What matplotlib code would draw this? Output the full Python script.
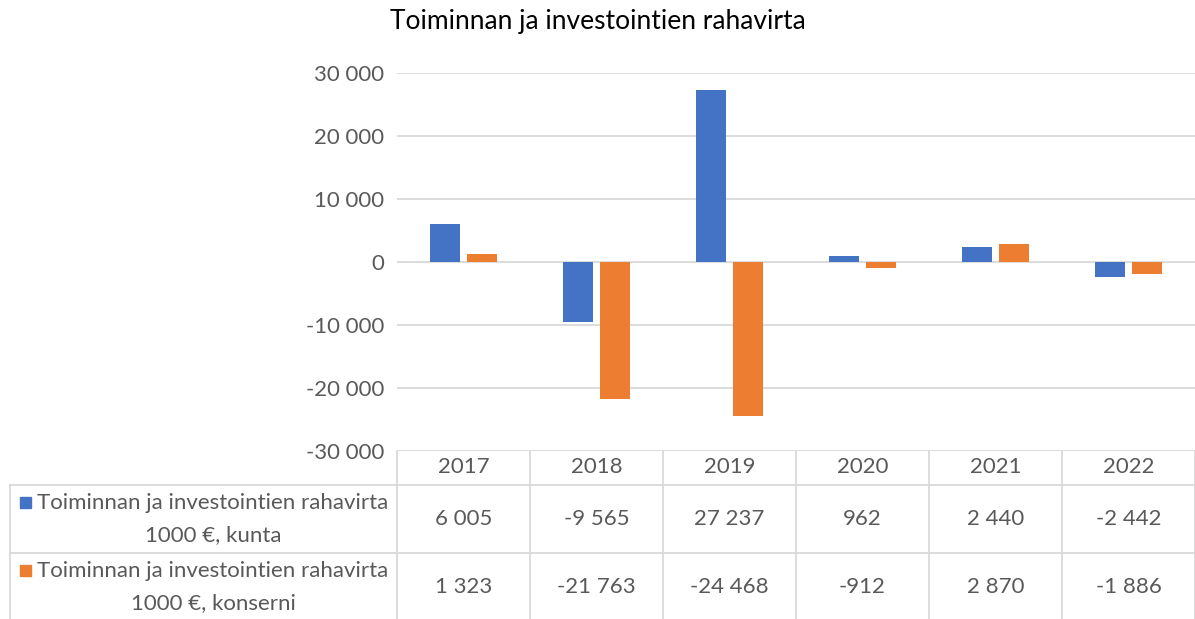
import matplotlib
matplotlib.use("Agg")
import matplotlib.pyplot as plt
import matplotlib.transforms as mtransforms
from matplotlib.patches import Rectangle

plt.rcParams['font.family'] = ['Lato', 'DejaVu Sans']

title = "Toiminnan ja investointien rahavirta"
years = ["2017", "2018", "2019", "2020", "2021", "2022"]
kunta = [6005, -9565, 27237, 962, 2440, -2442]
konserni = [1323, -21763, -24468, -912, 2870, -1886]
series_names = ["Toiminnan ja investointien rahavirta\n1000 €, kunta",
                "Toiminnan ja investointien rahavirta\n1000 €, konserni"]
yticks = [-30000, -20000, -10000, 0, 10000, 20000, 30000]

W, H = 1195, 619
fig = plt.figure(figsize=(W / 100, H / 100), dpi=100)

# pixel geometry
px_l, px_r, px_t, px_b = 397, 1195, 73, 451
ax = fig.add_axes([px_l / W, 1 - px_b / H, (px_r - px_l) / W, (px_b - px_t) / H])

ov = fig.add_axes([0, 0, 1, 1], zorder=-1)
ov.set_xlim(0, W)
ov.set_ylim(H, 0)
ov.axis('off')

blue = "#4472C4"
orange = "#ED7D31"
grid = "#D9D9D9"
txt = "#595959"
fs = 16

x = list(range(len(years)))
bw = 0.225
ax.bar([i - 0.142 for i in x], kunta, width=bw, color=blue, zorder=3)
ax.bar([i + 0.142 for i in x], konserni, width=bw, color=orange, zorder=3)

ax.set_xlim(-0.5, len(years) - 0.5)
ax.set_ylim(-30000, 30000)
ax.set_yticks(yticks)
ax.set_yticklabels([f"{v:,}".replace(",", " ") for v in yticks])
ax.tick_params(axis='y', length=0, labelsize=fs, labelcolor=txt, pad=9)
ax.set_xticks([])
for s in ax.spines.values():
    s.set_visible(False)
ax.yaxis.grid(True, color=grid, lw=1.3, zorder=0)
ax.set_axisbelow(True)

fig.text(0.5, 1 - 22 / H, title, ha='center', va='center', fontsize=19, color='black')

# table
bt = mtransforms.blended_transform_factory(ax.transData, ov.transData)
lw = 1.3
for b in [-0.5 + k for k in range(len(years) + 1)]:
    ov.plot([b, b], [451, 619], transform=bt, color=grid, lw=lw, clip_on=False)
ov.plot([10, 10], [485, 619], color=grid, lw=lw)
for yy in [485, 553]:
    ov.plot([10, W], [yy, yy], color=grid, lw=lw)

for i, yr in enumerate(years):
    ov.text(i, 467, yr, transform=bt, ha='center', va='center', fontsize=fs, color=txt)
    ov.text(i, 519, f"{kunta[i]:,}".replace(",", " "), transform=bt, ha='center', va='center', fontsize=fs, color=txt)
    ov.text(i, 587, f"{konserni[i]:,}".replace(",", " "), transform=bt, ha='center', va='center', fontsize=fs, color=txt)

for name, col, yc in [(series_names[0], blue, 519), (series_names[1], orange, 587)]:
    l1, l2 = name.split("\n")
    ov.add_patch(Rectangle((20, yc - 22), 11, 11, color=col))
    ov.text(213, yc - 16, l1, ha='center', va='center', fontsize=fs, color=txt)
    ov.text(213, yc + 16, l2, ha='center', va='center', fontsize=fs, color=txt)

fig.savefig("out.png", dpi=100)
